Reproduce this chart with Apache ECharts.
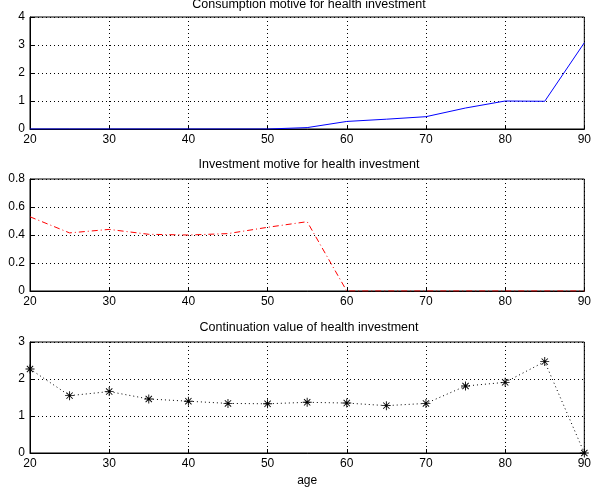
<!DOCTYPE html>
<html>
<head>
<meta charset="utf-8">
<script src="https://cdn.jsdelivr.net/npm/echarts@6/dist/echarts.min.js"></script>
<style>
  html, body { margin: 0; padding: 0; background: #fff; }
  #main { width: 594px; height: 495px; }
</style>
</head>
<body>
<div id="main"></div>
<script>
// ages on the x axis
var ages = [20, 25, 30, 35, 40, 45, 50, 55, 60, 65, 70, 75, 80, 85, 90];

// panel 1 - consumption motive
var consumption = [0, 0, 0, 0, 0, 0, 0, 0.05, 0.27, 0.35, 0.44, 0.75, 1.0, 0.99, 3.08];
// panel 2 - investment motive
var investment = [0.53, 0.415, 0.44, 0.405, 0.40, 0.41, 0.455, 0.495, 0, 0, 0, 0, 0, 0, 0];
// panel 3 - continuation value
var continuation = [2.27, 1.55, 1.66, 1.46, 1.40, 1.34, 1.33, 1.37, 1.35, 1.28, 1.34, 1.81, 1.91, 2.47, 0];

var titles = [
  'Consumption motive for health investment',
  'Investment motive for health investment',
  'Continuation value of health investment'
];

function pairs(ys) {
  return ages.map(function (a, i) { return [a, ys[i]]; });
}

// asterisk marker like matlab '*'
var star = 'path://M-1,-10L1,-10L1,10L-1,10Z M-10,-1L10,-1L10,1L-10,1Z ' +
  'M-6.3,-7.7L7.7,6.3L6.3,7.7L-7.7,-6.3Z M6.3,-7.7L7.7,-6.3L-6.3,7.7L-7.7,6.3Z';

var font = 'Liberation Sans';
var grids = [
  { left: 30, right: 7, top: 17, height: 112 },
  { left: 30, right: 7, top: 179, height: 112 },
  { left: 30, right: 7, top: 342, height: 111 }
];
var titleTops = [-2, 158, 321];

function xAxis(i) {
  var ax = {
    type: 'value', gridIndex: i, min: 20, max: 90, interval: 10,
    axisLine: { lineStyle: { color: '#000', width: 1 } },
    axisTick: { inside: true, length: 4, lineStyle: { color: '#000' } },
    axisLabel: { color: '#000', fontSize: 12, fontFamily: font, margin: 5 },
    splitLine: { show: true, lineStyle: { color: '#000', type: [1, 3], width: 1 } }
  };
  if (i === 2) {
    ax.name = 'age';
    ax.nameLocation = 'middle';
    ax.nameGap = 22;
    ax.nameTextStyle = { color: '#000', fontSize: 12, fontFamily: font };
  }
  return ax;
}

function yAxis(i, max, interval) {
  return {
    type: 'value', gridIndex: i, min: 0, max: max, interval: interval,
    axisLine: { show: true, lineStyle: { color: '#000', width: 1 } },
    axisTick: { show: true, inside: true, length: 4, lineStyle: { color: '#000' } },
    axisLabel: { color: '#000', fontSize: 12, fontFamily: font, margin: 5 },
    splitLine: { show: true, lineStyle: { color: '#000', type: [1, 3], width: 1 } }
  };
}

var option = {
  backgroundColor: '#fff',
  animation: false,
  title: titles.map(function (t, i) {
    return {
      text: t, left: 309, top: titleTops[i], textAlign: 'center', padding: 0,
      textStyle: { color: '#000', fontSize: 12.5, fontWeight: 'normal', fontFamily: font }
    };
  }),
  grid: grids.map(function (g) {
    return Object.assign({ show: true, borderColor: '#000', borderWidth: 1, backgroundColor: '#fff' }, g);
  }),
  xAxis: [xAxis(0), xAxis(1), xAxis(2)],
  yAxis: [yAxis(0, 4, 1), yAxis(1, 0.8, 0.2), yAxis(2, 3, 1)],
  series: [
    {
      type: 'line', xAxisIndex: 0, yAxisIndex: 0, data: pairs(consumption),
      showSymbol: false, symbol: 'none',
      lineStyle: { color: '#0000ff', width: 1 }
    },
    {
      type: 'line', xAxisIndex: 1, yAxisIndex: 1, data: pairs(investment),
      showSymbol: false, symbol: 'none',
      lineStyle: { color: '#ff0000', width: 1, type: [6, 3, 1, 3] }
    },
    {
      type: 'line', xAxisIndex: 2, yAxisIndex: 2, data: pairs(continuation),
      symbol: star, symbolSize: 9,
      itemStyle: { color: '#000' },
      lineStyle: { color: '#000', width: 1, type: [1, 3] }
    }
  ]
};

var chart = echarts.init(document.getElementById('main'));
chart.setOption(option);
</script>
</body>
</html>
